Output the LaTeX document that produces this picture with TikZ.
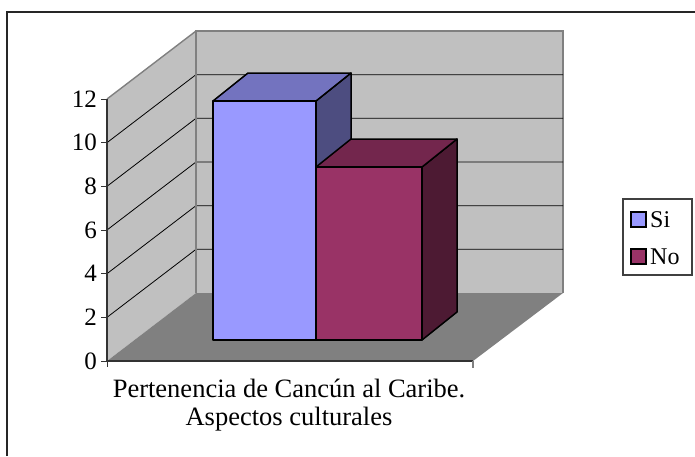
\documentclass[tikz,border=0pt]{standalone}
\usepackage{fontspec}
\setmainfont{Liberation Serif}
\definecolor{wallgray}{HTML}{C0C0C0}
\definecolor{floorgray}{HTML}{808080}
\definecolor{edgegray}{HTML}{808080}
\definecolor{siFront}{HTML}{9999FF}
\definecolor{siTop}{HTML}{7373BF}
\definecolor{siSide}{HTML}{4D4D80}
\definecolor{noFront}{HTML}{993366}
\definecolor{noTop}{HTML}{73264D}
\definecolor{noSide}{HTML}{4D1A33}
\tikzset{
  framestyle/.style={draw=black!85, line width=1.6pt},
  edgeline/.style={draw=edgegray, line width=1.4pt},
  floorstyle/.style={fill=floorgray, draw=none},
  gridline/.style={draw=black, line width=0.8pt},
  axisline/.style={draw=black!80, line width=1.6pt},
  barstyle/.style={draw=black, line width=1.5pt, line join=round},
  ticklbl/.style={anchor=east, inner sep=0pt, font=\fontsize{25pt}{28pt}\selectfont},
  catlbl/.style={anchor=base, inner sep=0pt, font=\fontsize{26.5pt}{30pt}\selectfont},
  legtxt/.style={anchor=base west, inner sep=0pt, font=\fontsize{24pt}{28pt}\selectfont},
  legbox/.style={draw=black, line width=1.3pt},
}
\begin{document}
\begin{tikzpicture}[x=1pt,y=-1pt]
\useasboundingbox (0,0) rectangle (695,456);
% outer frame (top and left only)
\draw[framestyle] (7,456) -- (7,12) -- (695,12);
% walls
\path[fill=wallgray] (196,31) rectangle (563,293);
\draw[edgeline] (196,293) -- (196,31) -- (563,31) -- (563,293);
\path[fill=wallgray] (107,99) -- (196,31) -- (196,293) -- (107,361) -- cycle;
\draw[edgeline] (107,99) -- (196,31);
% gridlines
\foreach \k in {1,...,5} {
  \draw[gridline] (107,{361-43.67*\k}) -- (196,{293-43.67*\k}) -- (563,{293-43.67*\k});
}
% floor
\path[floorstyle] (107,361) -- (196,293) -- (563,293) -- (473,361) -- cycle;
\draw[edgeline] (196,31) -- (196,293);
% Si bar
\filldraw[barstyle, fill=siSide] (316,101) -- (351,73) -- (351,312) -- (316,340) -- cycle;
\filldraw[barstyle, fill=siTop] (213,101) -- (248,73) -- (351,73) -- (316,101) -- cycle;
\filldraw[barstyle, fill=siFront] (213,101) rectangle (316,340);
% No bar
\filldraw[barstyle, fill=noSide] (422,167) -- (457,139) -- (457,312) -- (422,340) -- cycle;
\filldraw[barstyle, fill=noTop] (316,167) -- (351,139) -- (457,139) -- (422,167) -- cycle;
\filldraw[barstyle, fill=noFront] (316,167) rectangle (422,340);
% axes
\draw[axisline] (107,99) -- (107,361) -- (473,361);
\draw[draw=black!80, line width=1pt] (107,361) -- (107,367);
\draw[draw=edgegray, line width=1.2pt] (473,361) -- (473,368);
\foreach \v in {0,2,...,12} {
  \draw[draw=black!80, line width=1pt] (101,{361-21.83*\v}) -- (107,{361-21.83*\v});
  \node[ticklbl] (t\v) at (97,{361-21.83*\v}) {\v};
}
% category label
\node[catlbl] (cat1) at (289,397) {Pertenencia de Cancún al Caribe.};
\node[catlbl] (cat2) at (289,425) {Aspectos culturales};
% legend
\draw[draw=black!75, line width=1.2pt] (623,199) rectangle (692,275);
\filldraw[legbox, fill=siFront] (631,212) rectangle (646,227);
\node[legtxt] (lsi) at (650,227) {Si};
\filldraw[legbox, fill=noFront] (631,249) rectangle (646,264);
\node[legtxt] (lno) at (650,264) {No};
\end{tikzpicture}
\end{document}
